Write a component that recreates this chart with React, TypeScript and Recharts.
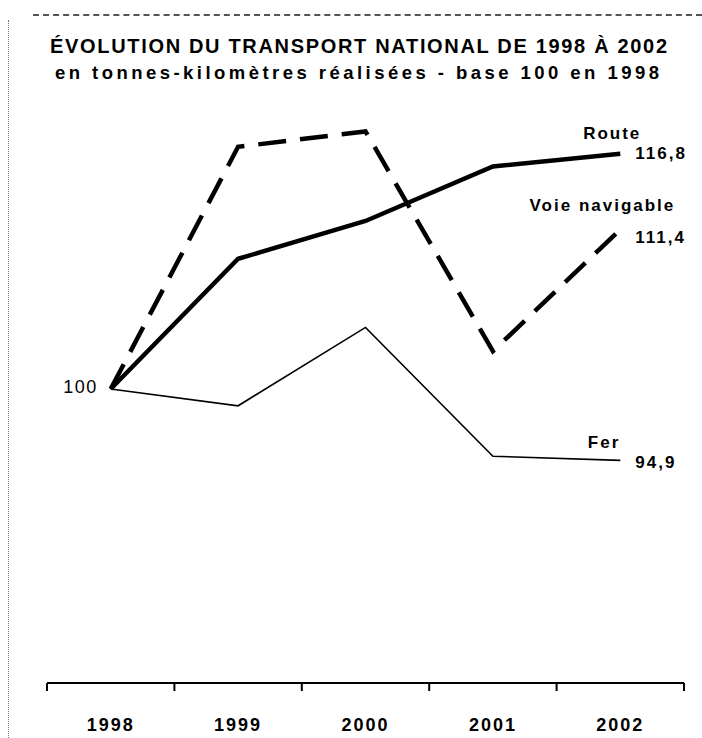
import { LineChart, Line, XAxis, YAxis } from 'recharts'

const years = ['1998', '1999', '2000', '2001', '2002']
const route = [100, 109.3, 112.0, 115.9, 116.8]
const voieNavigable = [100, 117.3, 118.4, 102.7, 111.4]
const fer = [100, 98.8, 104.4, 95.2, 94.9]
const seriesNames = ['Route', 'Voie navigable', 'Fer']
// band edges (integers) get a tick mark, band centres (halves) get the year
const axisTicks = [0, 0.5, 1, 1.5, 2, 2.5, 3, 3.5, 4, 4.5, 5]

const titleLine1 = 'ÉVOLUTION DU TRANSPORT NATIONAL DE 1998 À 2002'
const titleLine2 = 'en tonnes-kilomètres réalisées - base 100 en 1998'

const data = years.map((year, i) => ({
  year,
  slot: i + 0.5,
  route: route[i],
  voie: voieNavigable[i],
  fer: fer[i],
}))

const font = '"Liberation Sans", Arial, sans-serif'
const fmt = (v: number) => String(v).replace('.', ',')

const textStyle = {
  fontFamily: font,
  fontSize: 17,
  fontWeight: 'bold' as const,
  fill: '#000',
  letterSpacing: 2,
}

function YearTick(props: any) {
  const { x, y, payload } = props
  const v = payload.value
  if (Number.isInteger(v)) {
    return <line x1={x} x2={x} y1={y} y2={y + 8} stroke="#000" strokeWidth={2} />
  }
  return (
    <text x={x} y={y + 42} textAnchor="middle" dominantBaseline="central" style={{ ...textStyle, fontSize: 18 }}>
      {years[Math.floor(v)]}
    </text>
  )
}

// name above, value to the right of the last point
function endLabel(name: string, nameDx: number, nameDy: number, valueDy: number, showStart = false) {
  return (props: any) => {
    const { x, y, index, value } = props
    if (showStart && index === 0) {
      return (
        <text x={x - 13} y={y - 2} textAnchor="end" dominantBaseline="central" style={{ ...textStyle, fontWeight: 'normal', fontSize: 18, letterSpacing: 1.5 }}>
          {fmt(value)}
        </text>
      )
    }
    if (index !== years.length - 1) return <g />
    return (
      <g>
        <text x={x + nameDx} y={y + nameDy} textAnchor="end" dominantBaseline="central" style={textStyle}>
          {name}
        </text>
        <text x={x + 15} y={y + valueDy} dominantBaseline="central" style={textStyle}>
          {fmt(value)}
        </text>
      </g>
    )
  }
}

export default function App() {
  return (
    <div style={{ position: 'absolute', left: 0, top: 0, width: 702, height: 738, background: '#fff' }}>
      {/* scan frame */}
      <div style={{ position: 'absolute', left: 33, right: 0, top: 14, borderTop: '2px dashed #555' }} />
      <div style={{ position: 'absolute', left: 8, top: 20, bottom: 0, borderLeft: '1px dotted #777' }} />

      <svg width={702} height={100} style={{ position: 'absolute', left: 0, top: 0 }}>
        <text x={50} y={53} textLength={617} lengthAdjust="spacing" style={{ ...textStyle, fontSize: 20, letterSpacing: 0 }}>
          {titleLine1}
        </text>
        <text x={55} y={79} textLength={604} lengthAdjust="spacing" style={{ ...textStyle, fontSize: 18.5, letterSpacing: 0 }}>
          {titleLine2}
        </text>
      </svg>

      <div style={{ position: 'absolute', left: 0, top: 0 }}>
        <LineChart width={702} height={738} data={data} margin={{ top: 39, right: 18, left: 47, bottom: 15 }}>
          <XAxis
            dataKey="slot"
            type="number"
            domain={[0, 5]}
            ticks={axisTicks}
            interval={0}
            height={40}
            tickSize={0}
            tickMargin={0}
            tickLine={false}
            axisLine={{ stroke: '#000', strokeWidth: 2 }}
            tick={<YearTick />}
          />
          <YAxis hide type="number" domain={[79, 125]} allowDataOverflow />
          <Line
            dataKey="voie"
            name={seriesNames[1]}
            stroke="#000"
            strokeWidth={4.5}
            strokeDasharray="28 14"
            dot={false}
            activeDot={false}
            isAnimationActive={false}
            label={endLabel(seriesNames[1], 55, -24, 8)}
          />
          <Line
            dataKey="route"
            name={seriesNames[0]}
            stroke="#000"
            strokeWidth={4.5}
            dot={false}
            activeDot={false}
            isAnimationActive={false}
            label={endLabel(seriesNames[0], 21, -20, 0, true)}
          />
          <Line
            dataKey="fer"
            name={seriesNames[2]}
            stroke="#000"
            strokeWidth={1.6}
            dot={false}
            activeDot={false}
            isAnimationActive={false}
            label={endLabel(seriesNames[2], 0, -18, 2)}
          />
        </LineChart>
      </div>
    </div>
  )
}
